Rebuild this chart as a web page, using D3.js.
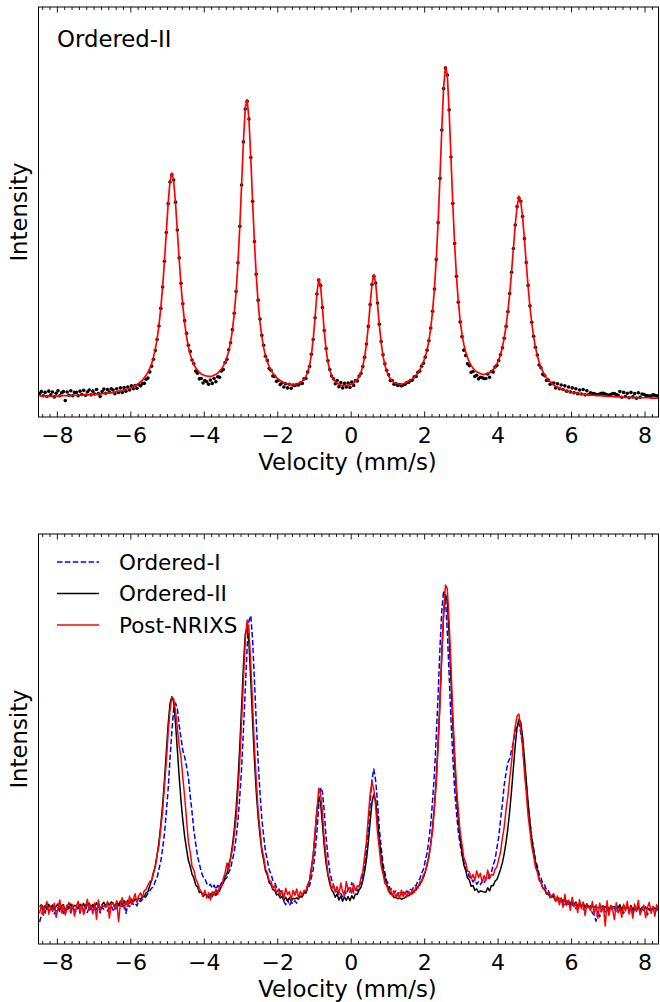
<!DOCTYPE html>
<html>
<head>
<meta charset="utf-8">
<script src="https://cdn.jsdelivr.net/npm/d3@7"></script>
<style>
  body { margin: 0; background: #fff; }
  text { font-family: 'DejaVu Sans', sans-serif; fill: #000; }
</style>
</head>
<body>
<div id="chart"></div>
<script>
// velocity channels (mm/s): 338 channels, 0.05 mm/s apart, starting at -8.47
const vStart = -8.47
const vStep = 0.05
const velocity = d3.range(338).map(i => +(vStart + vStep * i).toFixed(2))

// Ordered-II fit (top panel red line)
const fitII = [
  51, 51, 51, 51, 51, 51, 51, 51, 51, 51, 51, 52, 52, 52, 52, 52, 52, 52, 53, 53,
  53, 53, 53, 53, 54, 54, 54, 54, 55, 55, 55, 56, 56, 56, 57, 57, 58, 58, 59, 59,
  60, 61, 62, 63, 63, 65, 66, 67, 69, 70, 72, 74, 77, 79, 82, 86, 90, 96, 102, 109,
  119, 130, 146, 165, 191, 224, 266, 318, 381, 451, 521, 575, 596, 576, 522, 453, 384, 321, 270, 229,
  196, 172, 153, 139, 128, 120, 114, 109, 105, 103, 101, 100, 99, 99, 100, 102, 104, 107, 112, 117,
  124, 133, 145, 161, 183, 212, 252, 305, 375, 464, 567, 673, 754, 775, 726, 631, 523, 424, 343, 279,
  231, 196, 169, 149, 135, 123, 114, 107, 101, 96, 92, 89, 86, 84, 82, 81, 80, 79, 79, 79,
  80, 82, 84, 87, 92, 99, 109, 126, 152, 190, 243, 301, 337, 320, 266, 209, 165, 134, 114, 101,
  92, 87, 83, 80, 78, 77, 77, 77, 77, 79, 80, 83, 87, 92, 99, 109, 124, 147, 179, 222,
  275, 325, 348, 326, 276, 224, 181, 149, 127, 112, 100, 94, 88, 84, 82, 81, 80, 80, 81, 83,
  85, 88, 90, 93, 97, 102, 108, 115, 123, 134, 147, 164, 187, 218, 259, 313, 385, 475, 584, 702,
  804, 856, 833, 747, 632, 519, 421, 342, 282, 236, 202, 177, 159, 145, 134, 126, 119, 114, 110, 108,
  106, 104, 104, 105, 106, 108, 111, 116, 121, 129, 139, 153, 170, 193, 222, 258, 302, 354, 412, 469,
  514, 536, 525, 487, 433, 374, 318, 269, 229, 196, 170, 150, 133, 121, 111, 102, 96, 90, 86, 82,
  78, 75, 73, 71, 69, 67, 65, 64, 63, 61, 60, 59, 58, 58, 57, 56, 56, 55, 54, 54,
  53, 53, 53, 52, 52, 52, 52, 51, 51, 51, 50, 50, 50, 49, 49, 49, 49, 49, 48, 48,
  48, 48, 48, 48, 47, 47, 47, 47, 47, 47, 47, 47, 47, 46, 46, 46, 46, 46
]

// Ordered-II measured spectrum (top panel dots, bottom panel black line)
const orderedII = [
  57, 62, 52, 60, 50, 63, 54, 61, 49, 58, 64, 52, 59, 62, 40, 61, 53, 64, 52, 60,
  60, 52, 63, 55, 65, 53, 61, 66, 54, 63, 56, 67, 57, 50, 62, 68, 58, 67, 61, 69,
  66, 57, 69, 60, 71, 60, 72, 63, 73, 66, 76, 69, 77, 70, 79, 76, 82, 82, 92, 95,
  110, 124, 141, 162, 189, 222, 265, 317, 380, 450, 520, 573, 591, 578, 524, 456, 388, 326, 276, 235,
  204, 175, 160, 139, 130, 112, 107, 93, 94, 83, 89, 86, 80, 90, 82, 94, 86, 98, 97, 112,
  116, 133, 141, 164, 181, 213, 253, 306, 376, 465, 566, 671, 751, 770, 727, 633, 526, 428, 348, 285,
  239, 199, 175, 148, 138, 118, 114, 100, 99, 87, 89, 79, 83, 73, 81, 71, 80, 70, 78, 77,
  79, 78, 83, 82, 93, 94, 110, 123, 153, 189, 242, 300, 334, 321, 267, 211, 167, 137, 116, 100,
  93, 81, 89, 74, 84, 71, 82, 73, 83, 72, 85, 77, 89, 88, 100, 106, 123, 146, 178, 221,
  274, 323, 343, 327, 278, 226, 184, 152, 130, 114, 103, 89, 89, 80, 81, 77, 79, 76, 78, 80,
  84, 85, 89, 90, 98, 99, 109, 112, 124, 131, 146, 163, 186, 217, 258, 312, 384, 474, 582, 700,
  801, 851, 834, 749, 634, 521, 423, 343, 280, 232, 196, 163, 150, 130, 125, 109, 111, 99, 102, 93,
  97, 96, 94, 94, 105, 97, 111, 110, 122, 126, 138, 152, 169, 192, 221, 257, 301, 353, 411, 468,
  513, 534, 526, 489, 435, 377, 321, 271, 231, 197, 170, 151, 127, 120, 104, 101, 89, 90, 80, 82,
  83, 71, 81, 69, 78, 67, 76, 63, 73, 61, 71, 59, 69, 57, 66, 56, 67, 54, 64, 55,
  59, 57, 57, 55, 55, 56, 58, 58, 56, 54, 53, 55, 57, 57, 55, 53, 62, 48, 60, 50,
  58, 47, 60, 49, 57, 46, 59, 48, 56, 55, 53, 52, 51, 51, 54, 53, 52, 49
]

// Ordered-I measured spectrum (bottom panel, blue dashed)
const orderedI = [
  18, 35, 52, 41, 58, 44, 50, 62, 39, 47, 55, 43, 60, 38, 52, 45, 57, 41, 54, 49,
  44, 58, 40, 53, 47, 61, 42, 55, 49, 63, 45, 52, 58, 41, 56, 50, 62, 46, 53, 59,
  48, 60, 51, 64, 55, 58, 67, 40, 62, 57, 70, 63, 66, 59, 72, 70, 76, 78, 83, 91,
  97, 104, 108, 122, 131, 153, 172, 206, 243, 297, 356, 433, 502, 560, 575, 561, 519, 486, 454, 438,
  414, 387, 340, 298, 250, 218, 185, 166, 146, 133, 128, 116, 110, 114, 104, 112, 101, 111, 106, 118,
  116, 127, 131, 145, 154, 176, 197, 233, 275, 337, 410, 507, 610, 716, 784, 797, 734, 630, 525, 424,
  348, 281, 237, 197, 175, 151, 140, 124, 119, 106, 105, 95, 97, 70, 62, 75, 60, 68, 64, 72,
  66, 78, 88, 82, 95, 91, 104, 110, 131, 152, 195, 245, 313, 360, 349, 300, 233, 186, 146, 126,
  112, 97, 95, 86, 90, 82, 96, 88, 104, 94, 118, 92, 100, 97, 110, 118, 141, 163, 206, 254,
  321, 381, 407, 377, 322, 255, 208, 166, 144, 122, 114, 101, 103, 92, 97, 86, 95, 88, 94, 90,
  97, 92, 101, 100, 111, 110, 123, 127, 142, 152, 174, 194, 229, 268, 328, 396, 492, 596, 715, 811,
  861, 843, 756, 648, 531, 438, 354, 297, 246, 215, 186, 170, 151, 146, 132, 131, 120, 125, 114, 120,
  113, 122, 116, 128, 125, 140, 144, 163, 177, 206, 234, 278, 319, 367, 398, 423, 434, 456, 476, 504,
  518, 523, 499, 465, 412, 365, 312, 273, 232, 206, 177, 160, 140, 131, 115, 112, 99, 98, 87, 90,
  80, 84, 74, 78, 69, 74, 62, 71, 63, 68, 58, 66, 52, 64, 57, 61, 50, 60, 55, 58,
  52, 41, 36, 20, 45, 31, 50, 58, 44, 55, 39, 60, 47, 53, 42, 58, 46, 55, 40, 52,
  58, 43, 55, 38, 52, 47, 60, 41, 54, 45, 57, 36, 50, 44, 56, 39, 52, 47
]

// Post-NRIXS measured spectrum (bottom panel, red)
const postNRIXS = [
  40, 62, 35, 55, 70, 38, 58, 45, 66, 30, 52, 74, 41, 60, 36, 57, 68, 44, 62, 33,
  58, 71, 42, 64, 37, 55, 76, 48, 61, 39, 67, 25, 74, 45, 60, 58, 56, 70, 28, 63,
  66, 49, 72, 19, 65, 80, 52, 71, 58, 84, 63, 76, 90, 68, 85, 92, 80, 98, 101, 112,
  121, 124, 146, 157, 189, 212, 258, 300, 365, 425, 499, 556, 590, 586, 555, 512, 466, 436, 385, 336,
  279, 223, 196, 160, 150, 128, 118, 103, 96, 84, 99, 79, 92, 74, 95, 86, 101, 88, 110, 105,
  128, 143, 168, 152, 181, 203, 240, 281, 350, 426, 530, 633, 735, 786, 760, 672, 571, 461, 378, 301,
  253, 205, 184, 152, 143, 123, 121, 104, 110, 92, 101, 85, 97, 78, 104, 88, 95, 73, 99, 86,
  102, 79, 96, 85, 99, 95, 114, 123, 157, 187, 248, 303, 358, 344, 298, 228, 185, 141, 126, 101,
  112, 94, 108, 88, 117, 96, 84, 121, 99, 106, 92, 115, 98, 110, 107, 131, 146, 186, 224, 287,
  344, 375, 355, 311, 245, 203, 160, 141, 116, 111, 95, 103, 84, 97, 80, 92, 78, 99, 83, 94,
  82, 96, 88, 101, 93, 108, 104, 120, 119, 138, 144, 168, 182, 219, 251, 311, 373, 468, 571, 697,
  807, 875, 866, 781, 673, 549, 451, 361, 302, 247, 216, 181, 170, 147, 146, 128, 139, 124, 148, 131,
  142, 118, 136, 124, 150, 128, 139, 137, 152, 158, 178, 196, 231, 260, 304, 338, 385, 425, 479, 516,
  542, 547, 510, 464, 399, 346, 288, 250, 209, 186, 157, 145, 124, 120, 104, 105, 91, 94, 80, 86,
  90, 70, 84, 62, 79, 55, 88, 60, 72, 48, 81, 57, 66, 42, 75, 52, 69, 35, 63, 58,
  47, 70, 38, 62, 28, 66, 44, 58, 8, 72, 35, 60, 49, 24, 67, 41, 55, 30, 63, 46,
  70, 38, 57, 28, 64, 45, 73, 36, 52, 61, 29, 55, 68, 40, 58, 33, 62, 47
]

const majorTicks = [-8, -6, -4, -2, 0, 2, 4, 6, 8]
const legendNames = ['Ordered-I', 'Ordered-II', 'Post-NRIXS']

const width = 660
const height = 1002
const left = 38.5
const right = 658.5

const svg = d3.select('#chart')
  .append('svg')
  .attr('width', width)
  .attr('height', height)

const x = d3.scaleLinear().domain([-8.5, 8.38]).range([left, right])
const minorTicks = d3.range(-42, 42)
  .map(k => +(k * 0.2).toFixed(1))
  .filter(d => x(d) >= left && x(d) <= right && Math.abs(d % 2) > 0.01)

function panel (top, bottom, yDomain, id) {
  const y = d3.scaleLinear().domain(yDomain).range([bottom, top])
  svg.append('clipPath')
    .attr('id', id)
    .append('rect')
    .attr('x', left)
    .attr('y', top)
    .attr('width', right - left)
    .attr('height', bottom - top)

  const g = svg.append('g')
  const plot = g.append('g').attr('clip-path', `url(#${id})`)

  // ticks on bottom and top spines, all pointing inward
  g.append('g')
    .attr('transform', `translate(0,${bottom})`)
    .call(d3.axisBottom(x).tickValues(minorTicks).tickSize(-3).tickFormat(''))
  g.append('g')
    .attr('transform', `translate(0,${bottom})`)
    .call(d3.axisBottom(x).tickValues(majorTicks).tickSize(-5.5).tickPadding(10))
    .selectAll('text')
    .style('font-size', '22px')
  g.append('g')
    .attr('transform', `translate(0,${top})`)
    .call(d3.axisTop(x).tickValues(minorTicks).tickSize(-3).tickFormat(''))
  g.append('g')
    .attr('transform', `translate(0,${top})`)
    .call(d3.axisTop(x).tickValues(majorTicks).tickSize(-5.5).tickFormat(''))
  g.selectAll('.domain').remove()
  g.selectAll('.tick line').attr('stroke', '#000').attr('stroke-width', 0.9)

  g.append('rect')
    .attr('x', left)
    .attr('y', top)
    .attr('width', right - left)
    .attr('height', bottom - top)
    .attr('fill', 'none')
    .attr('stroke', '#000')
    .attr('stroke-width', 1)

  g.append('text')
    .attr('x', (left + right) / 2 - 1)
    .attr('y', bottom + 53)
    .attr('text-anchor', 'middle')
    .style('font-size', '22.8px')
    .text('Velocity (mm/s)')

  g.append('text')
    .attr('transform', `translate(27,${(top + bottom) / 2}) rotate(-90)`)
    .attr('text-anchor', 'middle')
    .style('font-size', '22.8px')
    .text('Intensity')

  return { y, plot, g }
}

// top panel: Ordered-II data and fit
const topP = panel(7, 417, [0, 1000], 'clipTop')
const lineTop = d3.line().x((d, i) => x(velocity[i])).y(d => topP.y(d))

topP.plot.selectAll('circle')
  .data(orderedII)
  .enter()
  .append('circle')
  .attr('cx', (d, i) => x(velocity[i]))
  .attr('cy', d => topP.y(d))
  .attr('r', 1.8)
  .attr('fill', '#000')

topP.plot.append('path')
  .attr('d', lineTop(fitII))
  .attr('fill', 'none')
  .attr('stroke', '#ff0000')
  .attr('stroke-width', 1.7)

topP.g.append('text')
  .attr('x', 57)
  .attr('y', 46.5)
  .style('font-size', '22.8px')
  .text('Ordered-II')

// bottom panel: three spectra
const botP = panel(534, 944, [-38, 1005], 'clipBot')
const lineBot = d3.line().x((d, i) => x(velocity[i])).y(d => botP.y(d))

const series = [
  { name: legendNames[0], values: orderedI, color: '#0000ff', dash: '5.5,2.4' },
  { name: legendNames[1], values: orderedII, color: '#000000', dash: null },
  { name: legendNames[2], values: postNRIXS, color: '#ff0000', dash: null }
]

botP.plot.selectAll('.spec')
  .data(series)
  .enter()
  .append('path')
  .attr('class', 'spec')
  .attr('d', d => lineBot(d.values))
  .attr('fill', 'none')
  .attr('stroke', d => d.color)
  .attr('stroke-width', 1.5)
  .attr('stroke-dasharray', d => d.dash)
  .attr('stroke-linejoin', 'round')

const legend = botP.g.selectAll('.legend')
  .data(series)
  .enter()
  .append('g')
  .attr('class', 'legend')
  .attr('transform', (d, i) => `translate(57,${562 + i * 31.5})`)

legend.append('line')
  .attr('x1', 0)
  .attr('x2', 42)
  .attr('stroke', d => d.color)
  .attr('stroke-width', 1.5)
  .attr('stroke-dasharray', d => d.dash)

legend.append('text')
  .attr('x', 62)
  .attr('dy', '0.35em')
  .style('font-size', '21.5px')
  .text(d => d.name)
</script>
</body>
</html>
